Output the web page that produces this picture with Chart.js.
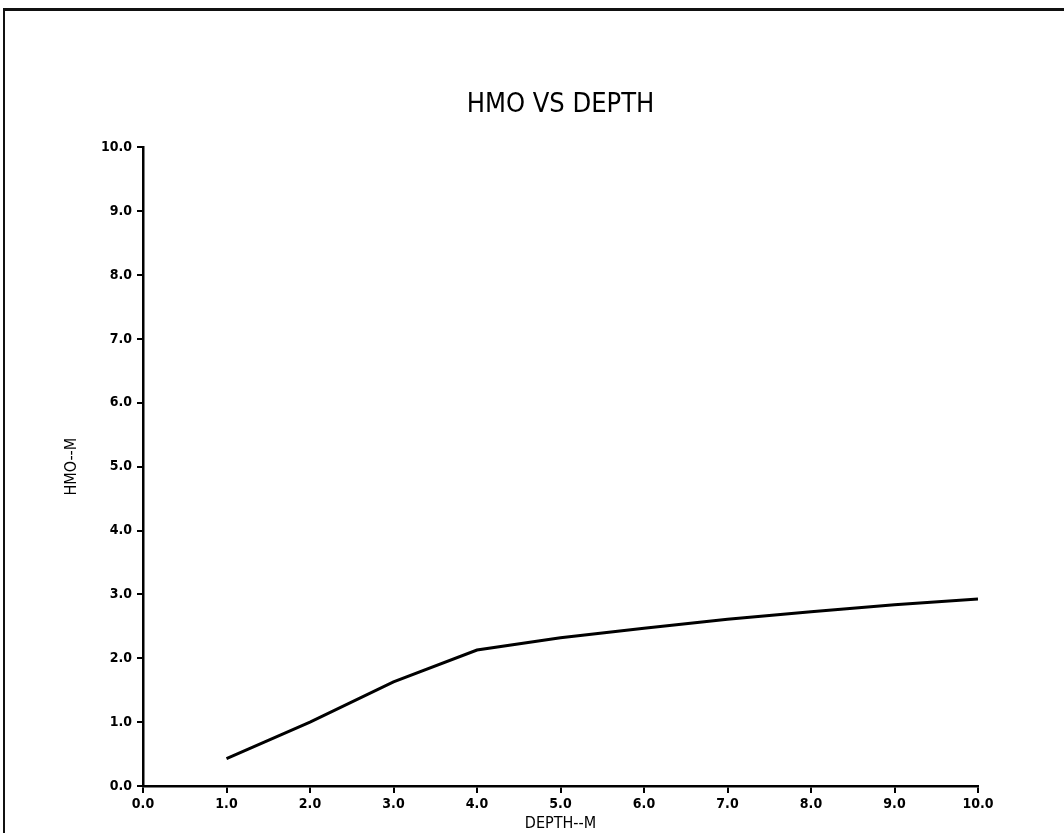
<!DOCTYPE html>
<html>
<head>
<meta charset="utf-8">
<script src="https://cdn.jsdelivr.net/npm/chart.js@4.4.0/dist/chart.umd.min.js"></script>
<style>
  html, body { margin: 0; padding: 0; background: #fff; }
  #wrap { position: relative; width: 1064px; height: 833px; overflow: hidden; }
  #frame {
    position: absolute; left: 3px; top: 8px; right: -10px; bottom: -10px;
    border-left: 2px solid #111; border-top: 3px solid #111;
    pointer-events: none;
  }
  canvas { position: absolute; left: 0; top: 0; }
</style>
</head>
<body>
<div id="wrap">
  <canvas id="main-chart" width="1064" height="833"></canvas>
  <div id="frame"></div>
</div>
<script>
// Data
const depthValues = [1.0, 2.0, 3.0, 4.0, 5.0, 6.0, 7.0, 8.0, 9.0, 10.0];
const hmoValues   = [0.43, 1.00, 1.63, 2.13, 2.32, 2.47, 2.61, 2.73, 2.84, 2.93];

// Axis ticks
const xTicks = [0, 1, 2, 3, 4, 5, 6, 7, 8, 9, 10];
const yTicks = [0, 1, 2, 3, 4, 5, 6, 7, 8, 9, 10];

const fontFamily = "'DejaVu Sans Condensed', 'Liberation Sans Narrow', sans-serif";
const tickFont = { family: fontFamily, size: 14, weight: 'bold' };
const labelFont = { family: fontFamily, size: 16 };

const points = depthValues.map((d, i) => ({ x: d, y: hmoValues[i] }));

const chartCanvas = document.getElementById('main-chart');

new Chart(chartCanvas, {
    type: 'scatter',
    data: {
        datasets: [{
            label: 'HMO',
            data: points,
            showLine: true,
            borderColor: '#000',
            borderWidth: 3,
            pointRadius: 0,
            tension: 0
        }]
    },
    options: {
        responsive: false,
        animation: false,
        layout: { padding: { left: 0, right: 86, top: 0, bottom: 0 } },
        plugins: {
            legend: { display: false },
            tooltip: { enabled: false },
            title: {
                display: true,
                fullSize: false,   // center over the plot area, like the original
                text: 'HMO VS DEPTH',
                color: '#000',
                font: { family: fontFamily, size: 27, weight: 'normal' },
                padding: { top: 89, bottom: 26 }
            }
        },
        scales: {
            x: {
                type: 'linear',
                min: 0,
                max: 10,
                afterBuildTicks: scale => { scale.ticks = xTicks.map(v => ({ value: v })); },
                afterFit: scale => { scale.height = 47; },
                ticks: {
                    color: '#000',
                    font: tickFont,
                    padding: 3,
                    maxRotation: 0,
                    callback: v => v.toFixed(1)
                },
                grid: { drawOnChartArea: false, drawTicks: true, tickLength: 7, color: '#000', lineWidth: 2 },
                border: { display: true, color: '#000', width: 2.5 },
                title: {
                    display: true,
                    text: 'DEPTH--M',
                    color: '#000',
                    font: labelFont,
                    padding: { top: 0, bottom: 0 }
                }
            },
            y: {
                type: 'linear',
                min: 0,
                max: 10,
                afterBuildTicks: scale => { scale.ticks = yTicks.map(v => ({ value: v })); },
                afterFit: scale => { scale.width = 143; },
                ticks: {
                    color: '#000',
                    font: tickFont,
                    padding: 5,
                    callback: v => v.toFixed(1)
                },
                grid: { drawOnChartArea: false, drawTicks: true, tickLength: 6, color: '#000', lineWidth: 2 },
                border: { display: true, color: '#000', width: 2.5 },
                title: {
                    display: true,
                    text: 'HMO--M',
                    color: '#000',
                    font: labelFont,
                    padding: { top: 62, bottom: 0 }
                }
            }
        }
    }
});
</script>
</body>
</html>
